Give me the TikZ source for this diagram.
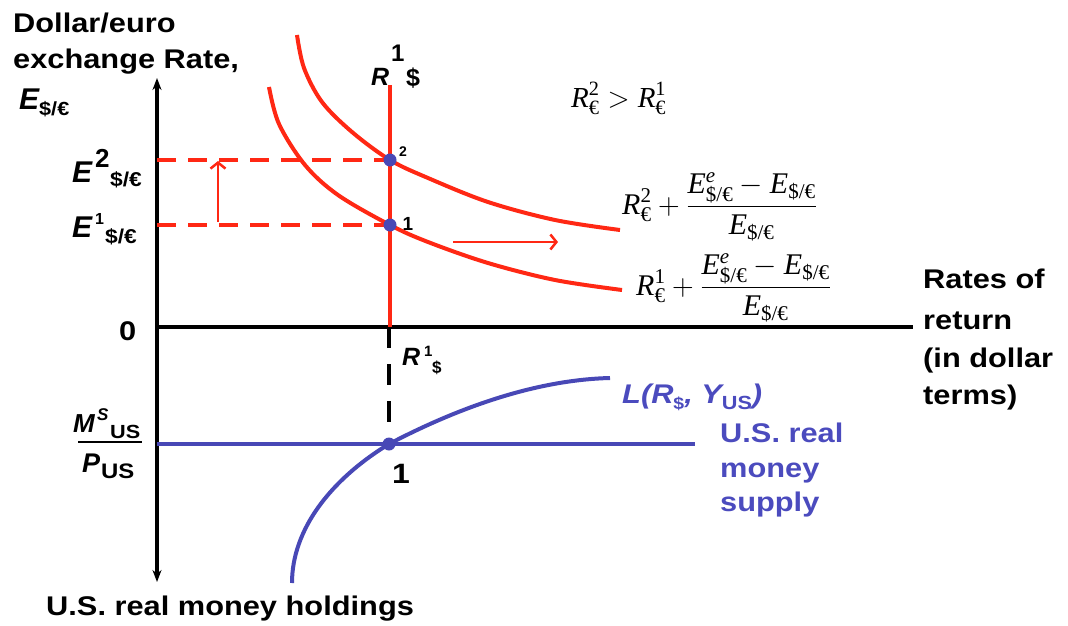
\RequirePackage{fix-cm}
\documentclass[tikz,border=0pt]{standalone}
\usepackage{fontspec}
\setmainfont{Liberation Sans}
\newfontfamily\tms{Liberation Serif}
\usepackage{amsmath}
\usepackage{graphicx}
\usetikzlibrary{arrows.meta}
\definecolor{rd}{RGB}{255,40,20}
\definecolor{bl}{RGB}{72,72,182}
\definecolor{bt}{RGB}{75,75,190}
\newcommand\fs[1]{\fontsize{#1}{#1}\selectfont}
\newcommand\wx[1]{\scalebox{1.14}[1]{#1}}
\newcommand\ti[1]{\text{\tms\itshape #1}}
\newcommand\tu[1]{\text{\tms #1}}
\begin{document}
\begin{tikzpicture}[x=1pt,y=-1pt,
  lbl/.style={inner sep=0pt, anchor=base west, font=\fs{27}\bfseries},
  bi/.style={inner sep=0pt, anchor=base west, font=\fs{#1}\bfseries\itshape},
  bu/.style={inner sep=0pt, anchor=base west, font=\fs{#1}\bfseries},
  axis/.style={line width=3.5pt, black},
  redl/.style={line width=4pt, rd},
  redthin/.style={line width=2.5pt, rd},
  bluel/.style={line width=4pt, bl},
  dot/.style={circle, fill=bl, inner sep=0pt, minimum size=13pt},
  tip/.style={-{Straight Barb[length=6pt,width=15pt]}},
  frm/.style={inner sep=0pt, anchor=base west}]
\useasboundingbox (0,0) rectangle (1068,626);
% coordinates
\coordinate (vtop) at (157,78);
\coordinate (vbot) at (157,582);
\coordinate (o) at (157,327);
\coordinate (hx) at (913,327);
\coordinate (rtop) at (390,85);
\coordinate (p2) at (390,160);
\coordinate (p1) at (390,225);
\coordinate (rbot) at (390,327);
\coordinate (e2) at (157,160);
\coordinate (e1) at (157,225);
\coordinate (ua1) at (218,222);
\coordinate (ua2) at (218,161);
\coordinate (ra1) at (453,242);
\coordinate (ra2) at (558,242);
\coordinate (dtop) at (389,327);
\coordinate (dbot) at (389,424);
\coordinate (m0) at (157,444);
\coordinate (m1) at (389,444);
\coordinate (m2) at (695,444);
\coordinate (lb) at (292,583);
\coordinate (le) at (610,378);
\coordinate (fb1) at (78,442);
\coordinate (fb2) at (142,442);
% axes
\draw[axis, {Stealth[length=12pt,width=9pt]}-{Stealth[length=12pt,width=9pt]}] (vbot) -- (vtop);
\draw[axis] (o) -- (hx);
% red part
\draw[redl] (rtop) -- (rbot);
\draw[redl, dash pattern=on 19pt off 12pt] (e2) -- (p2);
\draw[redl, dash pattern=on 19pt off 12pt] (e1) -- (p1);
\draw[redthin, tip] (ua1) -- (ua2);
\draw[redthin, tip] (ra1) -- (ra2);
\draw[redl] plot[smooth, tension=0.55] coordinates {(297,35) (304,68) (322,102) (352,132) (390,160) (428,178) (488,202) (555,220) (620,230)};
\draw[redl] plot[smooth, tension=0.55] coordinates {(269,87) (279,124) (305,165) (338,195) (390,225) (428,242) (488,263) (555,280) (622,290)};
\node[dot] (d2) at (p2) {};
\node[dot] (d1) at (p1) {};
% lower part
\draw[line width=4pt, dash pattern=on 21pt off 16pt] (dtop) -- (dbot);
\draw[bluel] (m0) -- (m2);
\draw[bluel] (lb) .. controls (292,530) and (330,480) .. (m1) .. controls (450,412) and (530,380) .. (le);
\node[dot] (d3) at (m1) {};
\draw[line width=2pt] (fb1) -- (fb2);
% texts upper left
\node[lbl] (t1) at (13,33) {\wx{Dollar/euro}};
\node[lbl] (t2) at (13,68) {\wx{exchange Rate,}};
\node[bi=30] (ea) at (19,110) {E};
\node[bu=19] (eas) at (39,115) {\wx{\$/€}};
\node[bi=30] (E2) at (72,182) {E};
\node[bu=26] (E2s) at (95,167) {2};
\node[bu=20] (E2d) at (110,186) {\wx{\$/€}};
\node[bi=30] (E1) at (72,237) {E};
\node[bu=16] (E1s) at (95,224) {1};
\node[bu=20] (E1d) at (105,243) {\wx{\$/€}};
\node[lbl] (zero) at (119,340) {\wx{0}};
% R1$ top
\node[bi=25] (Rt) at (371,85) {R};
\node[bu=24] (Rt1) at (391,62) {1};
\node[bu=25] (Rtd) at (406,86) {\$};
\node[inner sep=0pt, font=\fs{14}\bfseries] (l2) at (403,152) {2};
\node[inner sep=0pt, font=\fs{19}\bfseries] (l1) at (408,224) {1};
% formulas
\node[frm, font=\fs{29}] (ineq) at (571,107) {$\ti{R}^{\tu{2}}_{\tu{€}} > \ti{R}^{\tu{1}}_{\tu{€}}$};
\node[frm, font=\fs{30}] (f2) at (622,214) {$\ti{R}^{\tu{2}}_{\tu{€}}+\dfrac{\ti{E}^{\ti{e}}_{\tu{\$/€}}-\ti{E}_{\tu{\$/€}}}{\ti{E}_{\tu{\$/€}}}$};
\node[frm, font=\fs{30}] (f1) at (636,295) {$\ti{R}^{\tu{1}}_{\tu{€}}+\dfrac{\ti{E}^{\ti{e}}_{\tu{\$/€}}-\ti{E}_{\tu{\$/€}}}{\ti{E}_{\tu{\$/€}}}$};
% right labels
\node[lbl] (r1) at (923,288) {\wx{Rates of}};
\node[lbl] (r2) at (923,329) {\wx{return}};
\node[lbl] (r3) at (923,367) {\wx{(in dollar}};
\node[lbl] (r4) at (923,404) {\wx{terms)}};
% lower labels
\node[bi=25] (Rb) at (402,365) {R};
\node[bu=15] (Rb1) at (424,356) {1};
\node[bu=17] (Rbd) at (432,373) {\$};
\node[lbl, font=\fs{28}\bfseries] (one) at (392,483) {\wx{1}};
\node[bi=26] (M) at (73,432) {M};
\node[bi=17] (Ms) at (97,420) {S};
\node[bu=19] (Mus) at (110,438) {\wx{US}};
\node[bi=27] (P) at (82,472) {P};
\node[bu=21] (Pus) at (101,478) {\wx{US}};
\node[lbl, text=bt, font=\fs{27}\bfseries\itshape] (L) at (622,403) {\wx{L(R\raisebox{-6pt}{\fs{17}\upshape\$}, Y\raisebox{-6pt}{\fs{19}\upshape US})}};
\node[lbl, text=bt] (s1) at (720,442) {\wx{U.S. real}};
\node[lbl, text=bt] (s2) at (720,477) {\wx{money}};
\node[lbl, text=bt] (s3) at (720,511) {\wx{supply}};
\node[lbl] (hold) at (46,615) {\wx{U.S. real money holdings}};
\end{tikzpicture}
\end{document}
